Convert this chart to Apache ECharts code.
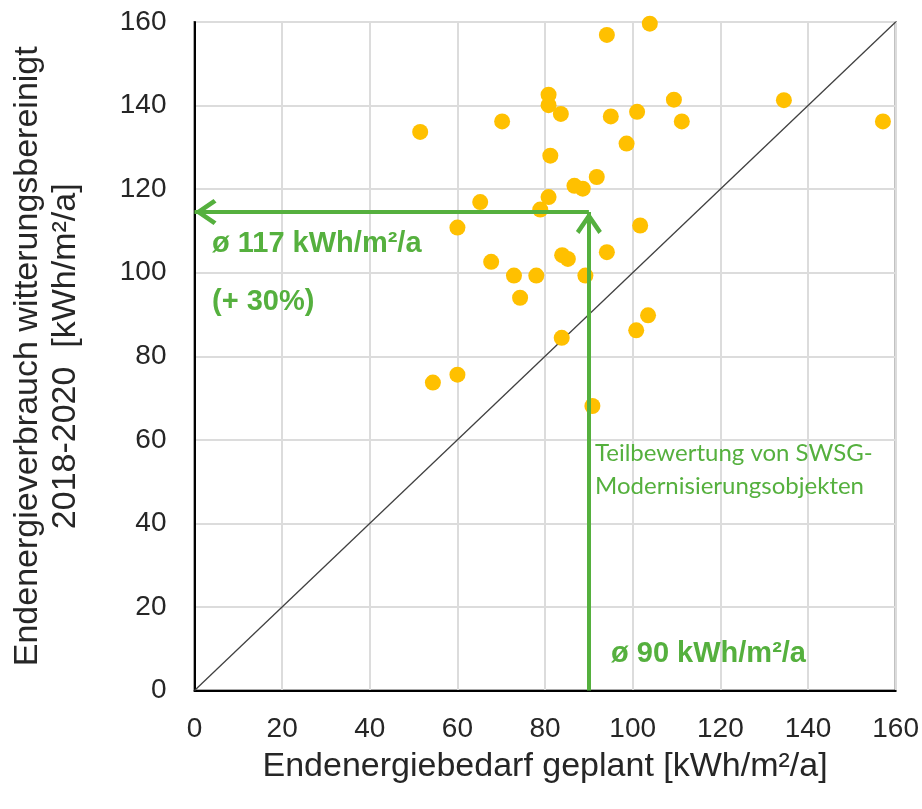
<!DOCTYPE html>
<html>
<head>
<meta charset="utf-8">
<script src="https://cdn.jsdelivr.net/npm/echarts@6/dist/echarts.min.js"></script>
<style>
  html, body { margin: 0; padding: 0; background: #fff; }
  #chart { width: 922px; height: 809px; }
</style>
</head>
<body>
<div id="chart"></div>
<script>
// planned demand (x) vs. weather-adjusted consumption (y), kWh/m²/a
const planned = [
  51.5, 70.2, 80.8, 80.8, 83.6, 94.1, 103.9, 95.0, 101.0, 109.4, 111.2, 98.6,
  81.2, 91.8, 86.7, 88.6, 65.2, 80.8, 78.9, 134.5, 157.1, 60.0, 101.7, 67.7,
  83.9, 85.2, 94.1, 72.9, 78.0, 89.2, 74.3, 103.5, 100.8, 83.8, 60.0, 54.4, 90.8
];
const consumption = [
  133.7, 136.2, 142.6, 140.1, 138.0, 156.9, 159.6, 137.4, 138.5, 141.4, 136.2, 130.9,
  128.0, 122.9, 120.8, 120.1, 116.9, 118.1, 115.1, 141.3, 136.2, 110.8, 111.3, 102.6,
  104.2, 103.3, 104.9, 99.3, 99.3, 99.3, 94.0, 89.8, 86.2, 84.4, 75.6, 73.7, 68.1
];
const diagonal = [[0, 0], [160, 160]];
const avgPlanned = 90;
const avgLevel = 114.5;
const axisTicks = [0, 20, 40, 60, 80, 100, 120, 140, 160];

const GREEN = '#55b03e';
const FONT = '"Liberation Sans", Arial, sans-serif';
// open chevron, tip in the middle of its box so it sits on the line end
const chevron = 'path://M0,-22 L0.01,-22 Z M0,0 L13,19 L9.5,22 L0,8 L-9.5,22 L-13,19 Z';

const points = planned.map((x, i) => [x, consumption[i]]);

const chart = echarts.init(document.getElementById('chart'), null, { renderer: 'canvas' });

const axisBase = {
  type: 'value',
  min: axisTicks[0],
  max: axisTicks[axisTicks.length - 1],
  interval: 20,
  nameLocation: 'middle',
  nameTextStyle: { fontFamily: FONT, fontSize: 34, color: '#262626' },
  axisLine: { show: true, onZero: false, lineStyle: { color: '#000', width: 2 } },
  axisTick: { show: false },
  axisLabel: { fontFamily: FONT, fontSize: 28, color: '#262626' },
  splitLine: { show: true, lineStyle: { color: '#dcdcdc', width: 2 } }
};

const greenText = (text, x, y, size, bold, family) => ({
  type: 'text',
  x: x,
  y: y,
  silent: true,
  z: 10,
  style: {
    text: text,
    fontFamily: family || FONT,
    fontWeight: bold ? 'bold' : 'normal',
    fontSize: size,
    fill: GREEN,
    verticalAlign: 'middle'
  }
});

chart.setOption({
  animation: false,
  grid: { left: 194.5, right: 25, top: 22, bottom: 118.5, show: true, borderColor: '#555', borderWidth: 2, backgroundColor: 'transparent' },
  xAxis: Object.assign({}, axisBase, {
    name: 'Endenergiebedarf geplant [kWh/m²/a]',
    nameGap: 59,
    axisLabel: Object.assign({}, axisBase.axisLabel, { margin: 25 })
  }),
  yAxis: Object.assign({}, axisBase, {
    name: 'Endenergieverbrauch witterungsbereinigt\n2018-2020  [kWh/m²/a]',
    nameGap: 110,
    nameTextStyle: Object.assign({}, axisBase.nameTextStyle, { lineHeight: 38 }),
    axisLabel: Object.assign({}, axisBase.axisLabel, { margin: 28 })
  }),
  series: [
    {
      type: 'line',
      data: diagonal,
      symbol: 'none',
      silent: true,
      lineStyle: { color: '#404040', width: 1.3 },
      z: 2
    },
    {
      type: 'scatter',
      data: points,
      symbol: 'circle',
      symbolSize: 16,
      itemStyle: { color: '#ffc000', opacity: 1 },
      z: 3
    },
    {
      type: 'line',
      data: [],
      silent: true,
      z: 4,
      markLine: {
        silent: true,
        symbol: ['none', chevron],
        symbolSize: [26, 44],
        label: { show: false },
        lineStyle: { color: GREEN, width: 4, type: 'solid' },
        data: [
          [{ coord: [avgPlanned, 0] }, { coord: [avgPlanned, avgLevel] }],
          [{ coord: [avgPlanned, avgLevel] }, { coord: [0, avgLevel] }]
        ]
      }
    }
  ],
  graphic: [
    greenText('ø 117 kWh/m²/a', 212, 244, 29, true),
    greenText('(+ 30%)', 212, 302, 29, true),
    greenText('Teilbewertung von SWSG-', 595, 453, 24, false, 'Lato, "Open Sans", sans-serif'),
    greenText('Modernisierungsobjekten', 595, 486, 24, false, 'Lato, "Open Sans", sans-serif'),
    greenText('ø 90 kWh/m²/a', 611, 654, 29, true)
  ]
});
</script>
</body>
</html>
